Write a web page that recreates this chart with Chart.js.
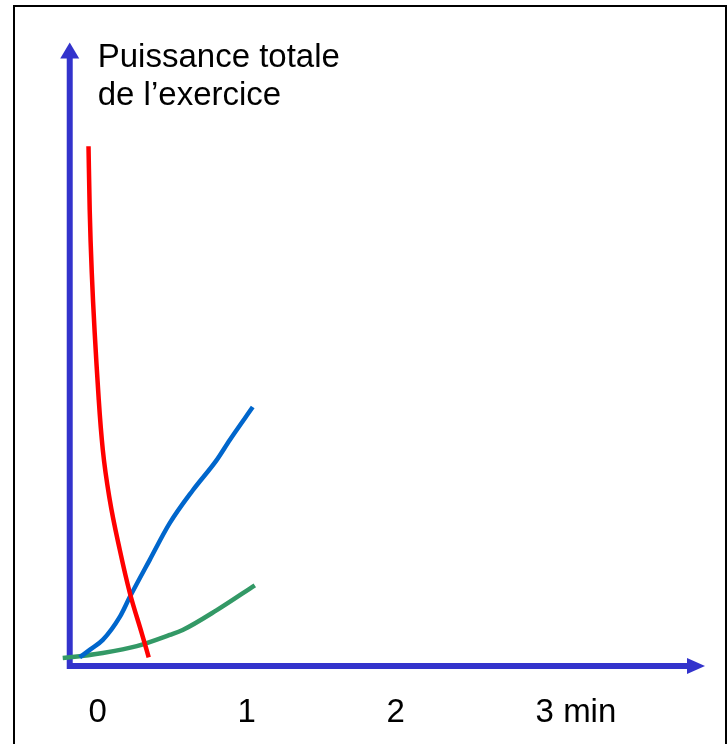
<!DOCTYPE html>
<html lang="fr">
<head>
    <meta charset="UTF-8">
    <title>Puissance totale de l'exercice</title>
    <script src="https://cdn.jsdelivr.net/npm/chart.js"></script>
    <style>
        body { margin: 0; background: #fff; overflow: hidden; }
        .frame {
            position: absolute; left: 13px; top: 5px; width: 710px; height: 760px;
            border: 2px solid #000; border-bottom: none;
        }
        canvas { position: absolute; left: 0; top: 0; }
    </style>
</head>
<body>
    <div class="frame"></div>
    <canvas id="chart" width="727" height="744"></canvas>

    <script>
        // courbes (temps en min, puissance en unités arbitraires 0-100)
        const redX   = [-0.062, -0.054, -0.040, 0.007, 0.034, 0.081, 0.148, 0.215, 0.295, 0.342];
        const redY   = [83.7, 73.5, 63.3, 42.8, 34.8, 26.7, 18.7, 11.8, 5.3, 1.4];
        const blueX  = [-0.121, -0.054, 0.034, 0.148, 0.215, 0.349, 0.483, 0.638, 0.799, 0.886, 1.040];
        const blueY  = [1.4, 2.6, 4.2, 7.9, 11.1, 17.1, 23.0, 28.3, 33.2, 36.4, 41.7];
        const greenX = [-0.235, -0.188, 0.034, 0.262, 0.483, 0.570, 0.799, 1.054];
        const greenY = [1.3, 1.4, 2.1, 3.2, 5.0, 5.8, 9.0, 13.0];

        const xTicks = [0, 1, 2, 3];
        const xTickLabels = ['0', '1', '2', '3 min'];
        const yTitle = ['Puissance totale', 'de l’exercice'];

        const axisColor = '#3333cc';
        const font = '33px "Liberation Sans", Arial, sans-serif';

        function toPoints(xs, ys) {
            return xs.map((x, i) => ({ x: x, y: ys[i] }));
        }

        const axesPlugin = {
            id: 'axes',
            beforeDatasetsDraw(chart) {
                const ctx = chart.ctx;
                const xs = chart.scales.x, ys = chart.scales.y;
                const x0 = xs.getPixelForValue(-0.188);
                const y0 = ys.getPixelForValue(0);
                const yTop = ys.getPixelForValue(100.4);
                const xEnd = xs.getPixelForValue(4.075);
                ctx.save();
                ctx.strokeStyle = axisColor;
                ctx.fillStyle = axisColor;
                ctx.lineWidth = 6;
                ctx.lineCap = 'square';
                ctx.beginPath();
                ctx.moveTo(x0, y0);
                ctx.lineTo(x0, yTop + 14);
                ctx.moveTo(x0, y0);
                ctx.lineTo(xEnd - 16, y0);
                ctx.stroke();
                // pointes de flèche
                ctx.beginPath();
                ctx.moveTo(x0, yTop);
                ctx.lineTo(x0 - 9.5, yTop + 16);
                ctx.lineTo(x0 + 9.5, yTop + 16);
                ctx.closePath();
                ctx.fill();
                ctx.beginPath();
                ctx.moveTo(xEnd, y0);
                ctx.lineTo(xEnd - 18, y0 - 8);
                ctx.lineTo(xEnd - 18, y0 + 8);
                ctx.closePath();
                ctx.fill();

                // étiquettes
                ctx.fillStyle = '#000';
                ctx.font = font;
                ctx.textBaseline = 'alphabetic';
                ctx.textAlign = 'left';
                xTicks.forEach((t, i) => {
                    const px = xs.getPixelForValue(t);
                    const lab = xTickLabels[i];
                    const first = ctx.measureText(lab.charAt(0)).width;
                    ctx.fillText(lab, px - first / 2, y0 + 56);
                });
                const tx = xs.getPixelForValue(0);
                ctx.fillText(yTitle[0], tx, 67);
                ctx.fillText(yTitle[1], tx, 105);
                ctx.restore();
            }
        };

        const lineStyle = {
            borderWidth: 4.5, pointRadius: 0, cubicInterpolationMode: 'monotone',
            fill: false, clip: false
        };

        new Chart('chart', {
            type: 'line',
            data: {
                datasets: [
                    Object.assign({ data: toPoints(redX, redY), borderColor: '#ff0000' }, lineStyle),
                    Object.assign({ data: toPoints(blueX, blueY), borderColor: '#0066cc' }, lineStyle),
                    Object.assign({ data: toPoints(greenX, greenY), borderColor: '#339966' }, lineStyle)
                ]
            },
            options: {
                responsive: false,
                animation: false,
                layout: { padding: { left: 59, right: 18, top: 45, bottom: 78 } },
                plugins: { legend: { display: false }, tooltip: { enabled: false } },
                scales: {
                    x: { type: 'linear', min: -0.26, max: 4.102, display: false },
                    y: { type: 'linear', min: 0, max: 100, display: false }
                }
            },
            plugins: [axesPlugin]
        });
    </script>
</body>
</html>
